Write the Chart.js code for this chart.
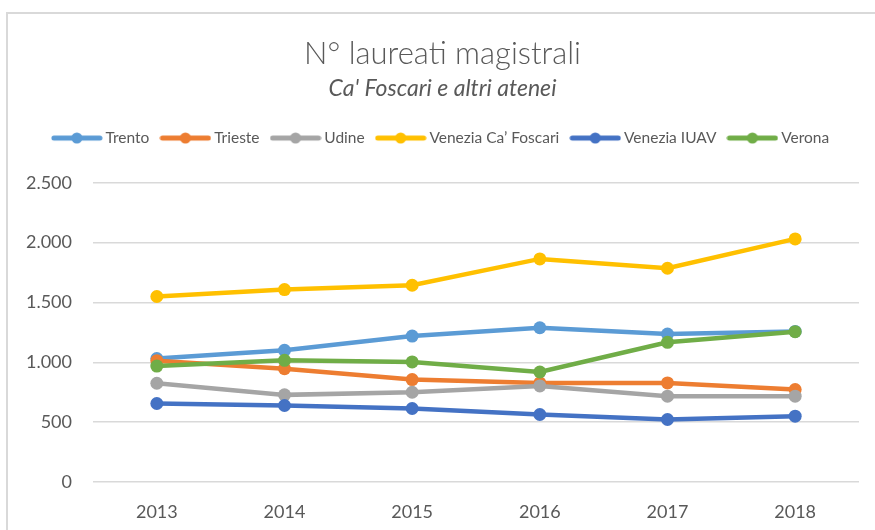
<!DOCTYPE html>
<html>
<head>
<meta charset="utf-8">
<script src="https://cdn.jsdelivr.net/npm/chart.js@4/dist/chart.umd.min.js"></script>
<style>
  html, body { margin: 0; background: #fff; overflow: hidden; width: 875px; height: 530px; }
  #frame { position: absolute; left: 6px; top: 12px; width: 1000px; height: 600px;
           border-left: 2px solid #d9d9d9; border-top: 2px solid #d9d9d9; }
  #c { position: absolute; left: 0; top: 0; }
</style>
</head>
<body>
<div id="frame"></div>
<canvas id="c" width="888" height="530"></canvas>
<script>
var years = ['2013', '2014', '2015', '2016', '2017', '2018'];
var trento = [1031, 1100, 1219, 1289, 1236, 1258];
var trieste = [1014, 947, 856, 828, 828, 772];
var udine = [825, 728, 750, 803, 717, 717];
var caFoscari = [1550, 1608, 1644, 1864, 1786, 2031];
var iuav = [656, 639, 614, 564, 522, 550];
var verona = [969, 1017, 1003, 919, 1167, 1256];
var yTicks = [0, 500, 1000, 1500, 2000, 2500];

var fontFam = "Lato, 'Open Sans', sans-serif";
var grey = '#595959';

// legend symbol: short line with a dot in the middle
function legendIcon(color) {
    var cv = document.createElement('canvas');
    cv.width = 52;
    cv.height = 12;
    var g = cv.getContext('2d');
    g.strokeStyle = color;
    g.lineWidth = 5;
    g.lineCap = 'round';
    g.beginPath();
    g.moveTo(3, 6);
    g.lineTo(49, 6);
    g.stroke();
    g.fillStyle = color;
    g.beginPath();
    g.arc(26, 6, 5.5, 0, Math.PI * 2);
    g.fill();
    return cv;
}

function serie(label, data, color, order) {
    return {
        label: label,
        data: data,
        borderColor: color,
        backgroundColor: color,
        borderWidth: 4.5,
        pointRadius: 6.5,
        pointHoverRadius: 6.5,
        pointBorderWidth: 0,
        tension: 0,
        order: order,
        icon: legendIcon(color)
    };
}

function fmt(v) {
    return String(v).replace(/\B(?=(\d{3})+(?!\d))/g, '.');
}

// extra room under the legend
var legendGap = {
    id: 'legendGap',
    beforeInit: function (chart) {
        var lg = chart.legend;
        if (!lg) return;
        var fit = lg.fit;
        lg.fit = function () {
            fit.call(this);
            this.height += 27;
        };
    }
};

var ctx = document.getElementById('c').getContext('2d');
var chart = new Chart(ctx, {
    type: 'line',
    data: {
        labels: years,
        datasets: [
            serie('Trento', trento, '#5B9BD5', 6),
            serie('Trieste', trieste, '#ED7D31', 5),
            serie('Udine', udine, '#A5A5A5', 4),
            serie('Venezia Ca’ Foscari', caFoscari, '#FFC000', 3),
            serie('Venezia IUAV', iuav, '#4472C4', 2),
            serie('Verona', verona, '#70AD47', 1)
        ]
    },
    options: {
        responsive: false,
        animation: false,
        layout: { padding: { top: 12, left: 26, right: 29, bottom: 7 } },
        plugins: {
            title: {
                display: true,
                text: 'N° laureati magistrali',
                color: grey,
                font: { family: fontFam, size: 31, weight: '300' },
                padding: { top: 23, bottom: 0 }
            },
            subtitle: {
                display: true,
                text: "Ca' Foscari e altri atenei",
                color: grey,
                font: { family: fontFam, size: 23, style: 'italic', weight: 'normal' },
                padding: { top: 3, bottom: 12.5 }
            },
            legend: {
                position: 'top',
                labels: {
                    usePointStyle: true,
                    pointStyleWidth: 42,
                    color: grey,
                    padding: 15,
                    font: { family: fontFam, size: 15.5 },
                    generateLabels: function (chart) {
                        return chart.data.datasets.map(function (ds, i) {
                            return {
                                text: ds.label,
                                pointStyle: ds.icon,
                                fillStyle: ds.borderColor,
                                strokeStyle: ds.borderColor,
                                lineWidth: 0,
                                hidden: false,
                                datasetIndex: i,
                                fontColor: grey
                            };
                        });
                    }
                }
            },
            tooltip: { enabled: false }
        },
        scales: {
            x: {
                offset: true,
                afterFit: function (scale) { scale.height = 41; },
                grid: { display: false, drawTicks: false },
                border: { display: false },
                ticks: {
                    color: grey,
                    padding: 19,
                    maxRotation: 0,
                    font: { family: fontFam, size: 18 }
                }
            },
            y: {
                min: yTicks[0],
                max: yTicks[yTicks.length - 1],
                afterFit: function (scale) { scale.width = 67; },
                afterBuildTicks: function (scale) {
                    scale.ticks = yTicks.map(function (v) { return { value: v }; });
                },
                grid: { color: '#d9d9d9', lineWidth: 1.5, drawTicks: false },
                border: { display: false },
                ticks: {
                    color: grey,
                    padding: 21,
                    font: { family: fontFam, size: 18 },
                    callback: function (v) { return fmt(v); }
                }
            }
        }
    },
    plugins: [legendGap]
});
</script>
</body>
</html>
